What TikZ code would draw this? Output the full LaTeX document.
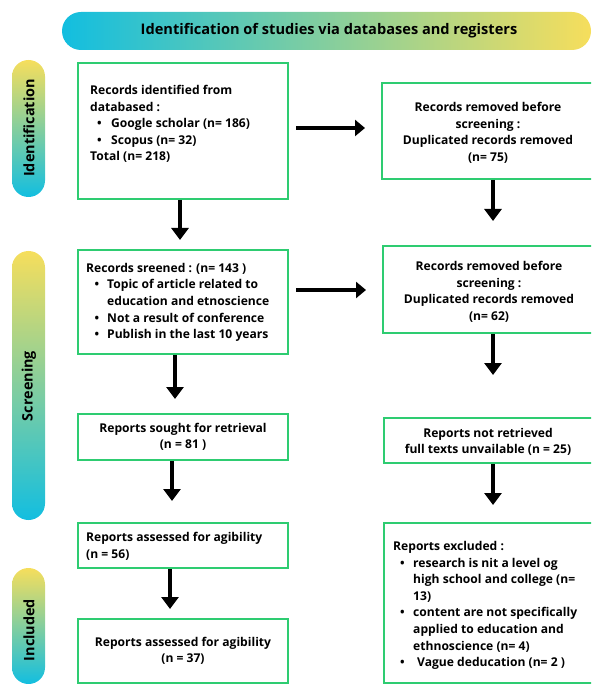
\documentclass[tikz,border=0pt]{standalone}
\usepackage{fontspec}
\setmainfont{Open Sans}
\usetikzlibrary{arrows.meta}
\definecolor{boxgreen}{RGB}{46,204,113}
\definecolor{pcyan}{RGB}{18,190,224}
\definecolor{pyellow}{RGB}{246,222,92}
\newcommand{\bitem}[3]{\makebox[#1pt]{}\makebox[#2pt][l]{\textbullet}#3}
\newcommand{\bcont}[2]{\makebox[#1pt]{}#2}
\begin{document}
\begin{tikzpicture}[x=1pt,y=-1pt,
  box/.style={draw=boxgreen,line width=2pt,inner sep=0pt,anchor=north west},
  txt/.style={font=\fontsize{12.1}{16.6}\selectfont\bfseries,inner sep=0pt},
  sidelbl/.style={font=\fontsize{14.4}{16}\selectfont\bfseries,rotate=90,inner sep=0pt},
  arr/.style={line width=3.5pt,-{Triangle[length=12pt,width=17pt]}},
  harr/.style={line width=3.5pt,-{Triangle[length=10pt,width=16pt]}}]
\clip (0,0) rectangle (591,684);
% title bar
\shade[left color=pcyan,right color=pyellow,rounded corners=19pt] (62,12) rectangle (591,50);
\node[font=\fontsize{14.6}{16}\selectfont\bfseries,inner sep=0pt] (title) at (329,31) {Identification of studies via databases and registers};
% side bars
\shade[top color=pyellow,bottom color=pcyan,rounded corners=16.5pt] (12,60) rectangle (45,197);
\node[sidelbl] (sid) at (29,128) {Identification};
\shade[top color=pyellow,bottom color=pcyan,rounded corners=16.5pt] (12,251) rectangle (45,520);
\node[sidelbl] (ssc) at (29,386) {Screening};
\shade[top color=pyellow,bottom color=pcyan,rounded corners=16.5pt] (12,568) rectangle (45,684);
\node[sidelbl] (sin) at (29,630) {Included};
% left column boxes
\node[box,minimum width=210pt,minimum height=136pt] (b1) at (77,62) {};
\node[txt,anchor=north west,align=left] (t1) at (90,85) {Records identified from\\databased :\\\bitem{7}{14}{Google scholar (n= 186)}\\\bitem{7}{14}{Scopus (n= 32)}\\Total (n= 218)};
\node[box,minimum width=210pt,minimum height=104pt] (b2) at (77,249) {};
\node[txt,anchor=north west,align=left] (t2) at (86,263) {Records sreened : (n= 143 )\\\bitem{8.5}{12.5}{Topic of article related to}\\\bcont{21}{education and etnoscience}\\\bitem{8.5}{12.5}{Not a result of conference}\\\bitem{8.5}{12.5}{Publish in the last 10 years}};
\node[box,minimum width=210pt,minimum height=46pt,txt,align=center] (b3) at (77,413) {Reports sought for retrieval\\(n = 81 )};
\node[box,minimum width=210pt,minimum height=45pt] (b4) at (77,522) {};
\node[txt,anchor=north west,align=left] (t4) at (86,532) {Reports assessed for agibility\\(n = 56)};
\node[box,minimum width=210pt,minimum height=64pt,txt,align=center] (b5) at (77,618) {Reports assessed for agibility\\(n = 37)};
% right column boxes
\node[box,minimum width=215pt,minimum height=96pt] (r1) at (381,82) {};
\node[txt,align=center] (tr1) at (488,133) {Records removed before\\screening :\\Duplicated records removed\\(n= 75)};
\node[box,minimum width=215pt,minimum height=87pt] (r2) at (382,245) {};
\node[txt,align=center] (tr2) at (489,292) {Records removed before\\screening :\\Duplicated records removed\\(n= 62)};
\node[box,minimum width=215pt,minimum height=45pt] (r3) at (383,417) {};
\node[txt,align=center] (tr3) at (488,442) {Reports not retrieved\\full texts unvailable (n = 25)};
\node[box,minimum width=215pt,minimum height=160pt] (r4) at (383,522) {};
\node[txt,anchor=north west,align=left] (tr4) at (393,541) {Reports excluded :\\\bitem{7}{13}{research is nit a level og}\\\bcont{20}{high school and college (n=}\\\bcont{20}{13)}\\\bitem{7}{13}{content are not specifically}\\\bcont{20}{applied to education and}\\\bcont{20}{ethnoscience (n= 4)}\\\bitem{7}{17}{Vague deducation (n= 2 )}};
% arrows
\draw[harr] ([xshift=7pt]b1.east |- 0,128) -- ([xshift=-16pt]r1.west |- 0,128);
\draw[harr] ([xshift=7pt]b2.east |- 0,290) -- ([xshift=-16pt]r2.west |- 0,290);
\draw[arr] (b1.south -| 180,0) -- ([yshift=9pt]b2.north -| 180,0);
\draw[arr] (b2.south -| 175,0) -- ([yshift=14pt]b3.north -| 175,0);
\draw[arr] (b3.south -| 172,0) -- ([yshift=21pt]b4.north -| 172,0);
\draw[arr] (b4.south -| 170,0) -- ([yshift=9pt]b5.north -| 170,0);
\draw[arr] (r1.south -| 493,0) -- ([yshift=24pt]r2.north -| 493,0);
\draw[arr] (r2.south -| 493,0) -- ([yshift=42pt]r3.north -| 493,0);
\draw[arr] (r3.south -| 493,0) -- ([yshift=17pt]r4.north -| 493,0);
\end{tikzpicture}
\end{document}
